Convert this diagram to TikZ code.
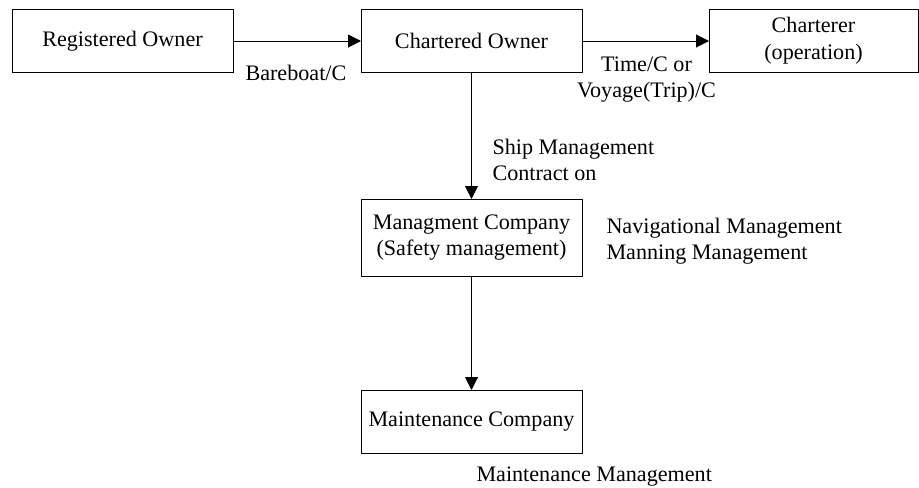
\documentclass[tikz,border=0pt]{standalone}
\usepackage{fontspec}
\setmainfont{Liberation Serif}
\usetikzlibrary{arrows.meta}
\tikzset{every picture/.style={line width=0.75pt}}
\tikzset{
  orgbox/.style={draw, rectangle, inner sep=0pt, outer sep=0pt, align=center, font=\fontsize{16.6}{20}\selectfont},
  lbl/.style={inner sep=0pt, font=\fontsize{16.6}{19.5}\selectfont},
  arr/.style={-{Triangle[length=9.75pt,width=9.75pt]}}
}

\begin{document}
\begin{tikzpicture}[x=0.75pt,y=0.75pt,yscale=-1,xscale=1]
\useasboundingbox (0,0) rectangle (919,487);

%Shape: Rectangle [id:reg]
\node (reg) [orgbox, minimum width=221*0.75pt, minimum height=63.5*0.75pt] at (122.5,41) {Registered Owner};
%Shape: Rectangle [id:cho]
\node (cho) [orgbox, minimum width=221*0.75pt, minimum height=63.5*0.75pt] at (471.5,41) {Chartered Owner};
%Shape: Rectangle [id:chr]
\node (chr) [orgbox, minimum width=209*0.75pt, minimum height=63.5*0.75pt] at (813.5,41) {Charterer\\(operation)};
%Shape: Rectangle [id:mgt]
\node (mgt) [orgbox, minimum width=221*0.75pt, minimum height=77*0.75pt] at (471.5,237.5) {Managment Company\\(Safety management)};
%Shape: Rectangle [id:mnt]
\node (mnt) [orgbox, minimum width=221*0.75pt, minimum height=63*0.75pt] at (471.5,421.5) {Maintenance Company};

%Straight Lines [id:bareboat]
\draw [arr] (reg) -- (cho);
%Straight Lines [id:timecharter]
\draw [arr] (cho) -- (chr);
%Straight Lines [id:shipmgt]
\draw [arr] (cho) -- (mgt);
%Straight Lines [id:maint]
\draw [arr] (mgt) -- (mnt);

% Text Node
\node (bbc) [lbl, anchor=west] at (245,73) {Bareboat/C};
% Text Node
\node (tcv) [lbl, align=center] at (646.5,79.5) {Time/C or\\Voyage(Trip)/C};
% Text Node
\node (smc) [lbl, anchor=west, align=left] at (492,160) {Ship Management\\Contract on};
% Text Node
\node (nav) [lbl, anchor=west, align=left] at (606,241.5) {Navigational Management\\Manning Management};
% Text Node
\node (mmg) [lbl, anchor=west] at (476,477) {Maintenance Management};

\end{tikzpicture}
\end{document}
